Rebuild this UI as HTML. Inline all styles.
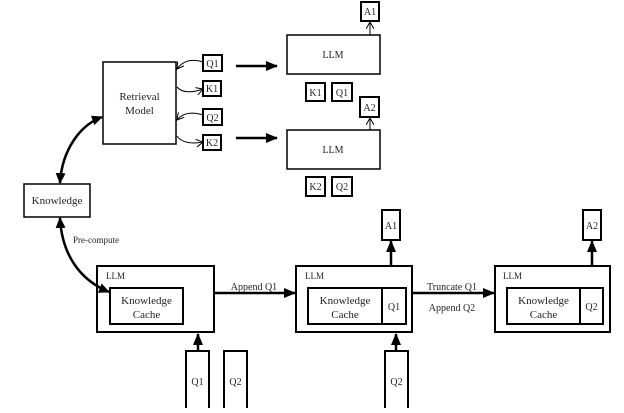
<!DOCTYPE html>
<html><head><meta charset="utf-8"><style>
body{margin:0;background:#fff}
svg text{font-family:"Liberation Serif",serif;fill:#222}
</style></head><body>
<svg width="624" height="408" viewBox="0 0 624 408" xmlns="http://www.w3.org/2000/svg">
<defs>
<marker id="ah" markerWidth="8" markerHeight="8" refX="7" refY="4" orient="auto" markerUnits="userSpaceOnUse"><path d="M0,0 L8,4 L0,8 z" fill="#000"/></marker>
<marker id="ahb" markerWidth="12" markerHeight="10" refX="11" refY="5" orient="auto" markerUnits="userSpaceOnUse"><path d="M0,0 L12,5 L0,10 z" fill="#000"/></marker>
<marker id="ahs" markerWidth="11" markerHeight="10" refX="10" refY="5" orient="auto-start-reverse" markerUnits="userSpaceOnUse"><path d="M0,0 L11,5 L0,10 z" fill="#000"/></marker>
<marker id="ao" markerWidth="8" markerHeight="8" refX="7" refY="4" orient="auto" markerUnits="userSpaceOnUse"><path d="M0,0 L7,4 L0,8" fill="none" stroke="#000"/></marker>
</defs>
<g fill="none" stroke="#000" stroke-width="1.5">
<rect x="103" y="62" width="73" height="82"/>
<rect x="203" y="55" width="19" height="16" stroke-width="2"/>
<rect x="203" y="81" width="18" height="15" stroke-width="2"/>
<rect x="203" y="109" width="19" height="16" stroke-width="2"/>
<rect x="203" y="135" width="18" height="15" stroke-width="2"/>
<rect x="287" y="35" width="93" height="39"/>
<rect x="361" y="2" width="18" height="19" stroke-width="2"/>
<rect x="306" y="83" width="19" height="18" stroke-width="2"/>
<rect x="332" y="83" width="20" height="18" stroke-width="2"/>
<rect x="287" y="130" width="93" height="39"/>
<rect x="360" y="97" width="19" height="20" stroke-width="2"/>
<rect x="306" y="177" width="19" height="19" stroke-width="2"/>
<rect x="332" y="177" width="20" height="19" stroke-width="2"/>
<rect x="24" y="184" width="66" height="33"/>
<rect x="97" y="266" width="117" height="66" stroke-width="2"/>
<rect x="110" y="288" width="73" height="36" stroke-width="2"/>
<rect x="296" y="266" width="116" height="66" stroke-width="2"/>
<rect x="308" y="288" width="74" height="36" stroke-width="2"/>
<rect x="382" y="288" width="24" height="36" stroke-width="2"/>
<rect x="495" y="266" width="115" height="66" stroke-width="2"/>
<rect x="507" y="288" width="73" height="36" stroke-width="2"/>
<rect x="580" y="288" width="23" height="36" stroke-width="2"/>
<rect x="382" y="210" width="18" height="30" stroke-width="2"/>
<rect x="583" y="210" width="18" height="30" stroke-width="2"/>
<rect x="186" y="351" width="23" height="59" stroke-width="2"/>
<rect x="224" y="351" width="23" height="59" stroke-width="2"/>
<rect x="385" y="351" width="23" height="59" stroke-width="2"/>
</g>
<g fill="none" stroke="#000" stroke-width="1">
<path d="M203,62 C190,58 182,62 177,69" marker-end="url(#ao)"/>
<path d="M177,87 C182,93 192,93 203,89" marker-end="url(#ao)"/>
<path d="M203,115 C190,111 182,114 177,120" marker-end="url(#ao)"/>
<path d="M177,136 C182,143 192,144 203,142" marker-end="url(#ao)"/>
<line x1="370" y1="35" x2="370" y2="22" marker-end="url(#ao)"/>
<line x1="370" y1="130" x2="370" y2="118" marker-end="url(#ao)"/>
</g>
<g fill="none" stroke="#000" stroke-width="2.5">
<line x1="236" y1="66" x2="277" y2="66" marker-end="url(#ahb)"/>
<line x1="236" y1="138" x2="277" y2="138" marker-end="url(#ahb)"/>
<path d="M60,183 C62,150 80,125 102,117" marker-end="url(#ahs)" marker-start="url(#ahs)"/>
<path d="M60,218 C62,255 80,280 109,292" marker-end="url(#ahs)" marker-start="url(#ahs)"/>
<line x1="215" y1="293" x2="295" y2="293" marker-end="url(#ahb)"/>
<line x1="413" y1="293" x2="494" y2="293" marker-end="url(#ahb)"/>
<line x1="391" y1="266" x2="391" y2="241" marker-end="url(#ahb)"/>
<line x1="592" y1="266" x2="592" y2="241" marker-end="url(#ahb)"/>
<line x1="198" y1="351" x2="198" y2="334" marker-end="url(#ahb)"/>
<line x1="396" y1="351" x2="396" y2="334" marker-end="url(#ahb)"/>
</g>
<g font-size="10" text-anchor="middle">
<text x="139.5" y="100" font-size="11">Retrieval</text><text x="139.5" y="114" font-size="11">Model</text>
<text x="212.5" y="67">Q1</text><text x="212" y="92">K1</text>
<text x="212.5" y="121">Q2</text><text x="212" y="146">K2</text>
<text x="333" y="58">LLM</text><text x="370" y="15">A1</text>
<text x="315.5" y="96">K1</text><text x="342" y="96">Q1</text>
<text x="333" y="153">LLM</text><text x="369.5" y="111">A2</text>
<text x="315.5" y="190">K2</text><text x="342" y="190">Q2</text>
<text x="57" y="204" font-size="11">Knowledge</text>
<text x="146.5" y="304" font-size="11">Knowledge</text><text x="146.5" y="318" font-size="11">Cache</text>
<text x="345" y="304" font-size="11">Knowledge</text><text x="345" y="318" font-size="11">Cache</text>
<text x="394" y="310">Q1</text>
<text x="543.5" y="304" font-size="11">Knowledge</text><text x="543.5" y="318" font-size="11">Cache</text>
<text x="591.5" y="310">Q2</text>
<text x="391" y="229">A1</text><text x="592" y="229">A2</text>
<text x="197.5" y="385">Q1</text><text x="235.5" y="385">Q2</text><text x="396.5" y="385">Q2</text>
<text x="254" y="290">Append Q1</text>
<text x="452" y="290">Truncate Q1</text>
<text x="452" y="311">Append Q2</text>
</g>
<g font-size="9">
<text x="73" y="243">Pre-compute</text>
<text x="106" y="279">LLM</text><text x="305" y="279">LLM</text><text x="503" y="279">LLM</text>
</g>
</svg>
</body></html>
